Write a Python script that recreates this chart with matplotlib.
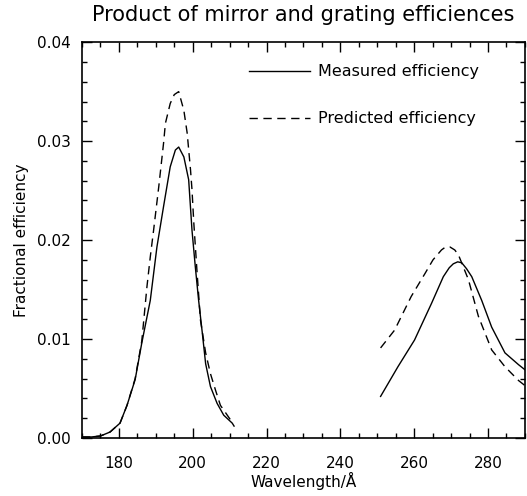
import matplotlib
matplotlib.use("Agg")
import matplotlib.pyplot as plt
from matplotlib.ticker import MultipleLocator, FormatStrFormatter

# first band (around 195 A)
wave_a = [170.0, 172.5, 175.0, 177.6, 180.3, 182.2, 184.4, 186.2, 188.5, 190.3,
          192.1, 193.9, 195.3, 196.2, 197.6, 198.9, 199.8, 200.7, 201.6, 202.6,
          203.5, 204.8, 206.6, 208.4, 210.7, 211.2]
measured_a = [0.0001, 0.0001, 0.0002, 0.0006, 0.0015, 0.0033, 0.0059, 0.0096,
              0.0139, 0.0193, 0.0234, 0.0274, 0.0291, 0.0294, 0.0284, 0.0261,
              0.0210, 0.0173, 0.0139, 0.0106, 0.0075, 0.0052, 0.0035, 0.0023,
              0.0015, 0.0012]

wave_pa = [170.0, 172.5, 175.0, 177.6, 180.3, 182.2, 184.4, 186.2, 187.6, 188.5,
           189.4, 190.8, 192.1, 192.6, 193.9, 195.0, 196.2, 197.6, 198.5, 199.4,
           199.8, 200.3, 201.2, 202.1, 203.5, 204.8, 206.2, 207.5, 210.3, 211.2]
predicted_a = [0.0001, 0.0001, 0.0002, 0.0006, 0.0015, 0.0033, 0.0060, 0.0098,
               0.0153, 0.0183, 0.0210, 0.0254, 0.0298, 0.0318, 0.0338, 0.0347,
               0.0350, 0.0331, 0.0308, 0.0271, 0.0251, 0.0217, 0.0166, 0.0119,
               0.0086, 0.0065, 0.0048, 0.0033, 0.0018, 0.0015]

# second band (around 270 A)
wave_b = [250.9, 255.6, 260.1, 264.7, 267.9, 269.5, 270.6, 271.8, 272.9, 274.2,
          275.6, 278.3, 281.0, 284.6, 288.3, 290.0]
measured_b = [0.0042, 0.0072, 0.0099, 0.0136, 0.0163, 0.0172, 0.0176, 0.0178,
              0.0177, 0.0171, 0.0163, 0.0139, 0.0112, 0.0086, 0.0074, 0.0069]

wave_pb = [250.9, 254.7, 259.2, 262.9, 265.1, 267.4, 268.5, 269.7, 271.0, 272.0,
           274.7, 277.4, 281.0, 284.6, 288.3, 290.0]
predicted_b = [0.0091, 0.0109, 0.0143, 0.0166, 0.0180, 0.0190, 0.0193, 0.0193,
               0.0190, 0.0185, 0.0160, 0.0123, 0.0089, 0.0072, 0.0058, 0.0053]

fig = plt.figure(figsize=(5.27, 4.96), dpi=100)
ax = fig.add_axes([0.1556, 0.117, 0.8404, 0.798])

dash = (0, (6, 4))
ax.plot(wave_a, measured_a, color="black", lw=1.0, label="Measured efficiency")
ax.plot(wave_pa, predicted_a, color="black", lw=1.0, linestyle=dash,
        label="Predicted efficiency")
ax.plot(wave_b, measured_b, color="black", lw=1.0)
ax.plot(wave_pb, predicted_b, color="black", lw=1.0, linestyle=dash)

ax.set_xlim(170, 290)
ax.set_ylim(0, 0.04)
ax.xaxis.set_major_locator(MultipleLocator(20))
ax.xaxis.set_minor_locator(MultipleLocator(5))
ax.yaxis.set_major_locator(MultipleLocator(0.01))
ax.yaxis.set_minor_locator(MultipleLocator(0.002))
ax.yaxis.set_major_formatter(FormatStrFormatter("%.2f"))
ax.tick_params(which="both", direction="in", top=True, right=True,
               labelsize=11, width=1.0, pad=8)
ax.tick_params(axis="x", which="both", pad=13)
ax.tick_params(which="major", length=7)
ax.tick_params(which="minor", length=3.5)
for s in ax.spines.values():
    s.set_linewidth(1.2)

ax.set_title("Product of mirror and grating efficiences", fontsize=15, pad=15)
ax.set_xlabel("Wavelength/Å", fontsize=11, labelpad=1)
ax.set_ylabel("Fractional efficiency", fontsize=11, labelpad=6)

ax.legend(loc="upper left", bbox_to_anchor=(0.345, 0.98), frameon=False,
          fontsize=11.5, handlelength=3.8, labelspacing=2.0, handletextpad=0.5)

fig.savefig("out.png", dpi=100)
